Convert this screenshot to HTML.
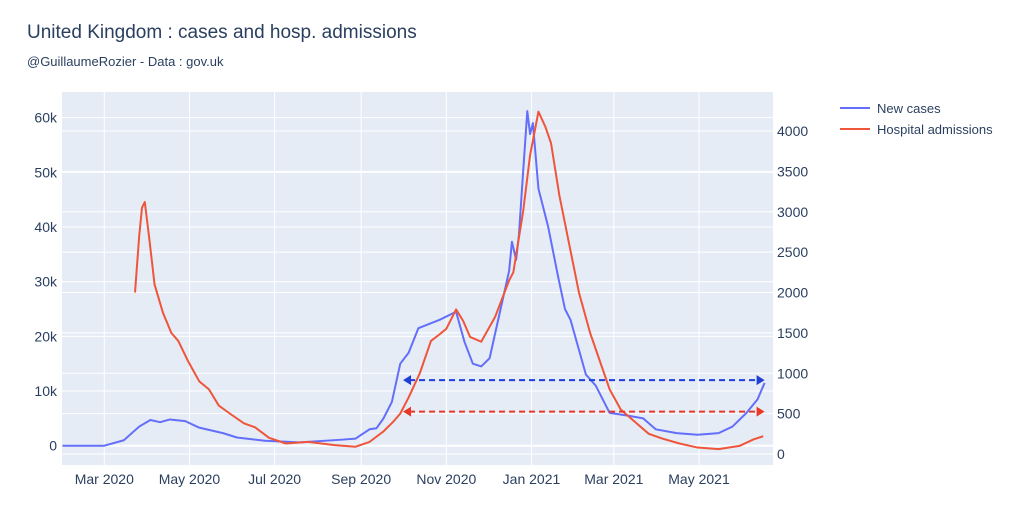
<!DOCTYPE html>
<html><head><meta charset="utf-8"><style>
body{margin:0;background:#fff;width:1024px;height:512px;overflow:hidden;font-family:"Liberation Sans",sans-serif}
</style></head><body>
<svg id="chart" width="1024" height="512" xmlns="http://www.w3.org/2000/svg" font-family="Liberation Sans, sans-serif">
<text x="27" y="38" font-size="19" fill="#2a3f5f">United Kingdom : cases and hosp. admissions</text>
<text x="27" y="66" font-size="13" fill="#2a3f5f">@GuillaumeRozier - Data : gov.uk</text>
<rect x="62" y="92" width="711" height="373" fill="#e5ecf6"/>
<g id="grid"></g><g id="series"></g><g id="axes"></g>
<g>
<line x1="840" y1="108" x2="870" y2="108" stroke="#636efa" stroke-width="2"/>
<text x="877" y="113" font-size="13" fill="#2a3f5f">New cases</text>
<line x1="840" y1="129" x2="870" y2="129" stroke="#ef553b" stroke-width="2"/>
<text x="877" y="134" font-size="13" fill="#2a3f5f">Hospital admissions</text>
</g>
</svg>
<script>
const caseDays=[-30,0,14,25,33,40,47,58,68,85,95,115,140,170,180,190,195,200,206,212,218,225,230,240,252,258,264,270,276,283,290,292,295,297,300,303,305,307,311,318,325,330,334,345,352,362,375,386,395,410,425,440,450,460,468,473];
const caseVals=[0,0,1,3.5,4.7,4.3,4.8,4.5,3.3,2.3,1.5,0.9,0.6,1.1,1.3,3,3.2,5,8,15,17,21.5,22,23,24.5,19,15,14.5,16,24,32,37.3,34,38.5,50,61.2,57,59,47,40,31,25,23,13,11,6,5.5,5,3,2.3,2,2.3,3.5,6,8.5,11.5];
const hospDays=[22,25,27,29,32,36,42,48,53,60,68,75,82,90,100,108,118,130,146,165,180,190,200,207,212,218,226,234,240,245,252,257,262,270,280,290,293,300,305,311,316,320,326,333,340,348,355,362,370,380,390,400,412,425,440,455,465,472];
const hospVals=[2000,2700,3050,3120,2700,2100,1750,1500,1400,1150,900,800,600,500,380,330,200,130,150,110,90,150,280,400,500,700,1000,1400,1480,1550,1790,1650,1450,1390,1700,2150,2250,3000,3700,4240,4050,3850,3200,2600,2000,1500,1150,800,550,400,250,190,130,80,60,100,180,220];
const leftTicks=[0,10,20,30,40,50,60];
const leftLabels=["0","10k","20k","30k","40k","50k","60k"];
const rightTicks=[0,500,1000,1500,2000,2500,3000,3500,4000];
const xTickDays=[0,61,122,184,245,306,365,426];
const xTickLabels=["Mar 2020","May 2020","Jul 2020","Sep 2020","Nov 2020","Jan 2021","Mar 2021","May 2021"];
const refCases=[12];
const refHosp=[525];
const refStartDay=214, refEndDay=473;

const X=d=>104.3+d*1.396;
const YL=v=>445.7-v*5.467;
const YR=v=>454-v*0.08075;
const NS="http://www.w3.org/2000/svg";
function mk(tag,attrs,parent){const e=document.createElementNS(NS,tag);for(const k in attrs)e.setAttribute(k,attrs[k]);document.getElementById(parent).appendChild(e);return e;}
leftTicks.forEach((t,i)=>{
 const l=mk('line',{x1:62,x2:773,y1:YL(t),y2:YL(t),stroke:'#fff','stroke-width':t===0?2:1},'grid');
 
 
 const tx=mk('text',{x:57,y:YL(t)+5,'text-anchor':'end','font-size':14,fill:'#2a3f5f'},'axes');tx.textContent=leftLabels[i];
 
 
});
rightTicks.forEach(t=>{
 const l=mk('line',{x1:62,x2:773,y1:YR(t),y2:YR(t),stroke:'#fff','stroke-width':1},'grid');
 
 
 const tx=mk('text',{x:777,y:YR(t)+5,'font-size':14,fill:'#2a3f5f'},'axes');tx.textContent=String(t);
 
 
});
xTickDays.forEach((d,i)=>{
 const l=mk('line',{x1:X(d),x2:X(d),y1:92,y2:465,stroke:'#fff','stroke-width':1},'grid');
 
 
 const tx=mk('text',{x:X(d),y:484,'text-anchor':'middle','font-size':14,fill:'#2a3f5f'},'axes');tx.textContent=xTickLabels[i];
 
 
});
const cp=mk('polyline',{points:caseDays.map((d,i)=>X(d)+','+YL(caseVals[i])).join(' '),fill:'none',stroke:'#636efa','stroke-width':2,'stroke-linejoin':'round'},'series');


const hp=mk('polyline',{points:hospDays.map((d,i)=>X(d)+','+YR(hospVals[i])).join(' '),fill:'none',stroke:'#ef553b','stroke-width':2,'stroke-linejoin':'round'},'series');


function arrow(y,col,name){
 const x1=X(refStartDay),x2=X(refEndDay);
 const l=mk('line',{x1:x1+6,x2:x2-6,y1:y,y2:y,stroke:col,'stroke-width':2,'stroke-dasharray':'6,4'},'series');
 
 
 mk('polygon',{points:`${x1},${y} ${x1+8},${y-5} ${x1+8},${y+5}`,fill:col},'series');
 mk('polygon',{points:`${x2},${y} ${x2-8},${y-5} ${x2-8},${y+5}`,fill:col},'series');
}
arrow(YL(refCases[0]),'#1f3fd6','cases-reference-arrow');
arrow(YR(refHosp[0]),'#e8382a','hospital-reference-arrow');
</script>
</body></html>
